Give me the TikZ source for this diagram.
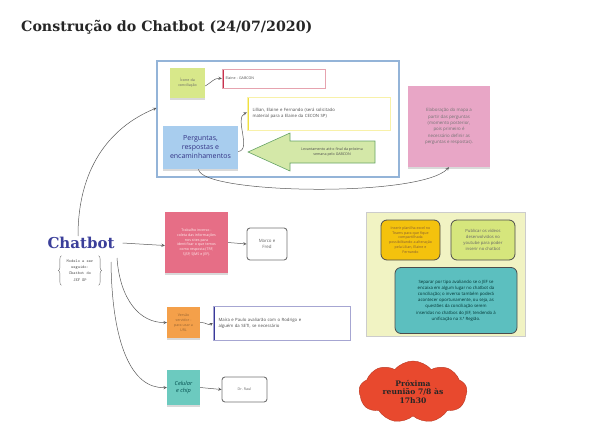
\documentclass[tikz,border=0pt]{standalone}
\usepackage{fontspec}
\setmainfont{Open Sans}
\newfontfamily\headfont{DejaVu Serif}
\usetikzlibrary{shapes.symbols,shadows,decorations.pathreplacing}
\definecolor{frameblue}{HTML}{94B4D8}
\definecolor{leafgreen}{HTML}{D8E88A}
\definecolor{crimson}{HTML}{C8324E}
\definecolor{lemon}{HTML}{F0E040}
\definecolor{skyblue}{HTML}{A8CDEE}
\definecolor{arrowgreen}{HTML}{D4E8A8}
\definecolor{rose}{HTML}{E8A6C6}
\definecolor{salmon}{HTML}{E66E86}
\definecolor{tangerine}{HTML}{F4A04A}
\definecolor{seafoam}{HTML}{6CCABF}
\definecolor{indigo}{HTML}{3A3A9A}
\definecolor{panelyellow}{HTML}{F1F3C3}
\definecolor{gold}{HTML}{F4C20D}
\definecolor{lime}{HTML}{D6E67C}
\definecolor{teal2}{HTML}{5CBFBF}
\definecolor{cloudred}{HTML}{E8492E}
\definecolor{chatblue}{HTML}{3B3F9A}
\begin{document}
\begin{tikzpicture}[x=1pt,y=-1pt,
  every node/.style={inner sep=1pt},
  tinyfont/.style={font=\fontsize{3.6}{4.8}\selectfont},
  sticky/.style={tinyfont,align=center,drop shadow={opacity=.3,shadow xshift=0pt,shadow yshift=-2pt}},
  band/.style={draw=#1!45,fill=white,tinyfont,align=left,text=black!70,
    path picture={\fill[#1] (path picture bounding box.north west) rectangle ([xshift=2pt]path picture bounding box.south west);}},
  plainbox/.style={draw=black!55,rounded corners=3pt,line width=0.9pt,fill=white,tinyfont,align=center,text=black!60},
  panelbox/.style={draw=black!70,rounded corners=6pt,line width=0.8pt,tinyfont,align=center},
  link/.style={->,>=stealth,black!65,line width=0.5pt}]
  \useasboundingbox (0,0) rectangle (600,434);
  % titulo
  \node[anchor=west,font=\headfont\bfseries\fontsize{14.2}{16}\selectfont,text=black!85] (title) at (20,27) {Construção do Chatbot (24/07/2020)};
  % quadro das perguntas
  \node[draw=frameblue,line width=1.2pt,minimum width=242,minimum height=116] (frame) at (278,119) {};
  \node[sticky,fill=leafgreen,minimum width=35,minimum height=30,text width=33,text=black!60] (icone) at (187.5,83) {Ícone da\\conciliação};
  \node[band=crimson,minimum width=103,minimum height=19,text width=96] (elaine) at (273.5,78.5) {Elaine - GABCON};
  \node[band=lemon,minimum width=143,minimum height=33,text width=132,font=\fontsize{4.3}{6}\selectfont] (lillian) at (318.5,113.5) {Lillian, Elaine e Fernando (será solicitado\\material para a Elaine da CECON SP)};
  \node[sticky,fill=skyblue,minimum width=75,minimum height=43,text=blue!40!black!80,font=\fontsize{7}{9}\selectfont] (perguntas) at (200.5,147.5) {Perguntas,\\respostas e\\encaminhamentos};
  \draw[fill=arrowgreen,draw=green!40!black!60,line width=0.6pt] (248,152) -- (290,133) -- (290,141) -- (375,141) -- (375,163) -- (290,163) -- (290,171) -- cycle;
  \node[tinyfont,align=center,text=black!70] (levant) at (332,152) {Levantamento até o final da próxima\\semana pelo GABCON};
  \node[sticky,fill=rose,minimum width=82,minimum height=81,text=black!55,font=\fontsize{4.4}{6.4}\selectfont] (mapa) at (449,126.5) {Elaboração do mapa a\\partir das perguntas\\(momento posterior,\\pois primeiro é\\necessário definir as\\perguntas e respostas).};
  % chatbot
  \node[font=\headfont\bfseries\fontsize{15}{17}\selectfont,text=chatblue] (chatbot) at (81,243) {Chatbot};
  \node[font=\ttfamily\fontsize{4.2}{6.2}\selectfont,align=center,text=black!70,inner xsep=5pt,inner ysep=4pt] (modelo) at (80,270.5) {Modelo a ser\\seguido:\\Chatbot do\\JEF SP};
  \draw[black!60,line width=0.4pt,decorate,decoration={brace,amplitude=3pt}] (modelo.south west) -- (modelo.north west);
  \draw[black!60,line width=0.4pt,decorate,decoration={brace,amplitude=3pt}] (modelo.north east) -- (modelo.south east);
  \node[sticky,fill=salmon,minimum width=63,minimum height=61,text=white!70!pink] (inverso) at (196.5,242.5) {Trabalho inverso -\\coleta das informações\\nos sites para\\identificar o que temos\\como resposta (TRF,\\SJSP, SJMS e JEF).};
  \node[plainbox,minimum width=40,minimum height=32,font=\fontsize{4.4}{6}\selectfont] (marco) at (267,244) {Marco e\\Fred};
  \node[sticky,fill=tangerine,minimum width=33,minimum height=31,text=orange!50!black!80] (versao) at (183.5,322.5) {Versão\\servidor -\\para usar a\\URL};
  \node[band=indigo,minimum width=137,minimum height=34,text width=126,font=\fontsize{4.3}{6}\selectfont] (maira) at (281.5,323) {Maíra e Paulo avaliarão com o Rodrigo e\\alguém da SETI, se necessário};
  \node[sticky,fill=seafoam,minimum width=33,minimum height=35,text=teal!60!black,font=\itshape\fontsize{5.6}{7.5}\selectfont] (celular) at (183.5,387.5) {Celular\\e chip};
  \node[plainbox,minimum width=45,minimum height=25] (raul) at (244.5,389.5) {Dr. Raul};
  % painel amarelo
  \node[draw=black!20,fill=panelyellow,minimum width=159,minimum height=124] (panel) at (446,274.5) {};
  \node[panelbox,fill=gold,minimum width=59,minimum height=40,text=orange!40!black!80] (planilha) at (410.5,240) {Inserir planilha excel no\\Teams para que fique\\compartilhada\\possibilitando a alteração\\pela Lilian, Elaine e\\Fernando};
  \node[panelbox,fill=lime,minimum width=64,minimum height=40,text=black!60,font=\fontsize{4.2}{6}\selectfont] (videos) at (483,240) {Publicar os vídeos\\desenvolvidos no\\youtube para poder\\inserir no chatbot};
  \node[panelbox,fill=teal2,minimum width=122,minimum height=66,text=teal!40!black,font=\fontsize{4.3}{6.2}\selectfont] (separar) at (456,300.5) {Separar por tipo avaliando se o JEF se\\encaixa em algum lugar no chatbot da\\conciliação; o inverso também poderá\\acontecer oportunamente, ou seja, as\\questões da conciliação serem\\inseridas no chatbos do JEF, tendendo à\\unificação na 3.ª Região.};
  % nuvem
  \node[cloud,cloud puffs=9,cloud puff arc=100,aspect=2.1,fill=cloudred,draw=cloudred!80!black,minimum width=108,minimum height=62,inner sep=0pt,align=center,font=\headfont\bfseries\fontsize{7.6}{8.6}\selectfont,text=black!85] (reuniao) at (413,392) {Próxima\\reunião 7/8 às\\17h30};
  % ligacoes
  \coordinate (fork1) at (117,258);
  \coordinate (fork2) at (111,262);
  \draw[link] ([yshift=-3pt]icone.east) .. controls (212,82) and (214,78) .. (elaine.west);
  \draw[link] ([yshift=-4pt]perguntas.east) .. controls (252,150) and (234,118) .. ([yshift=1pt]lillian.west);
  \draw[link] ([xshift=-2pt]perguntas.south) .. controls (200,194) and (420,198) .. (mapa.south);
  \draw[link] ([xshift=-3pt]chatbot.north) .. controls (78,170) and (108,128) .. ([yshift=11pt]frame.west);
  \draw[link] ([xshift=7pt]chatbot.east) -- ([yshift=-3pt]inverso.west);
  \draw[link] (inverso.east) -- (marco.west);
  \draw[link] (fork1) .. controls (120,300) and (140,323) .. (versao.west);
  \draw[link] (fork2) .. controls (112,345) and (132,389) .. (celular.west);
  \draw[link] (versao.east) .. controls (206,322) and (208,326) .. (maira.west);
  \draw[link] (celular.east) -- (raul.west);
\end{tikzpicture}
\end{document}
